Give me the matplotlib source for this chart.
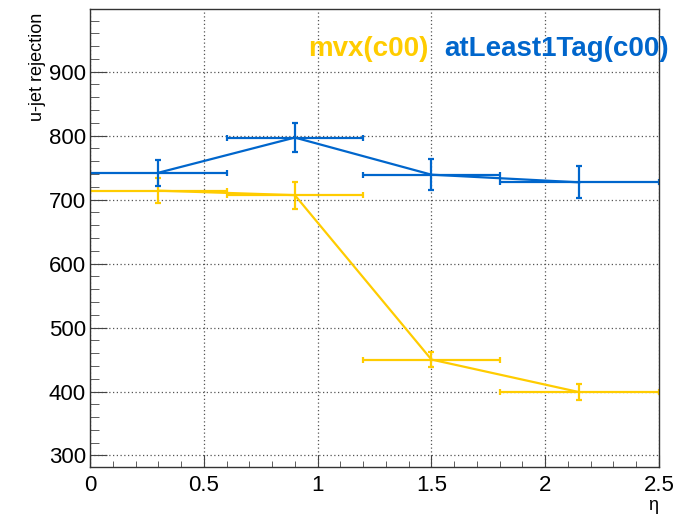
import numpy as np
import matplotlib.pyplot as plt
from matplotlib.ticker import MultipleLocator

# eta bins
eta = [0.3, 0.9, 1.5, 2.15]
eta_lo = [0.0, 0.6, 1.2, 1.8]
eta_hi = [0.6, 1.2, 1.8, 2.5]

# u-jet rejection
rej_mvx = [714, 707, 450, 399]
err_mvx = [20, 21, 12, 12]
rej_tag = [742, 797, 739, 727]
err_tag = [20, 22, 24, 25]

col_mvx = '#FFCC00'
col_tag = '#0066CC'

plt.rcParams['font.family'] = ['Liberation Sans', 'DejaVu Sans']

fig = plt.figure(figsize=(6.9, 5.19), dpi=100)
ax = fig.add_axes([90/690, 1-467/519, (659-90)/690, (467-9)/519])

xe_lo = np.array(eta) - np.array(eta_lo)
xe_hi = np.array(eta_hi) - np.array(eta)

ax.errorbar(eta, rej_mvx, yerr=err_mvx, xerr=[xe_lo, xe_hi], fmt='-',
            color=col_mvx, lw=1.6, elinewidth=1.6, capsize=2.5, capthick=1.6)
ax.errorbar(eta, rej_tag, yerr=err_tag, xerr=[xe_lo, xe_hi], fmt='-',
            color=col_tag, lw=1.6, elinewidth=1.6, capsize=2.5, capthick=1.6)

ax.set_xlim(0, 2.5)
ax.set_ylim(282, 998)
ax.xaxis.set_major_locator(MultipleLocator(0.5))
ax.xaxis.set_minor_locator(MultipleLocator(0.1))
ax.yaxis.set_major_locator(MultipleLocator(100))
ax.yaxis.set_minor_locator(MultipleLocator(20))
ax.set_xticks([0, 0.5, 1, 1.5, 2, 2.5])
ax.set_xticklabels(['0', '0.5', '1', '1.5', '2', '2.5'])

ax.tick_params(axis='both', which='both', direction='in', labelsize=16, color='#444444')
ax.tick_params(axis='y', which='major', length=12.5, pad=3)
ax.tick_params(axis='y', which='minor', length=6.5)
ax.tick_params(axis='x', which='major', length=9, pad=6)
ax.tick_params(axis='x', which='minor', length=4.5)

ax.grid(True, which='major', color='#555555', linestyle=(0, (1, 2)), lw=0.9)
ax.set_axisbelow(True)
for s in ax.spines.values():
    s.set_color('#333333')
    s.set_linewidth(1.0)

fig.text(37/690, 1-13/519, 'u-jet rejection', rotation=90, ha='center', va='top', fontsize=13)
fig.text(653/690, 1-505/519, 'η', ha='center', va='center', fontsize=13)

fig.text(428/690, 1-49/519, 'mvx(c00)', ha='right', va='center', fontsize=20,
         fontweight='bold', color=col_mvx)
fig.text(669/690, 1-49/519, 'atLeast1Tag(c00)', ha='right', va='center', fontsize=20,
         fontweight='bold', color=col_tag)

fig.savefig('out.png', dpi=100)
